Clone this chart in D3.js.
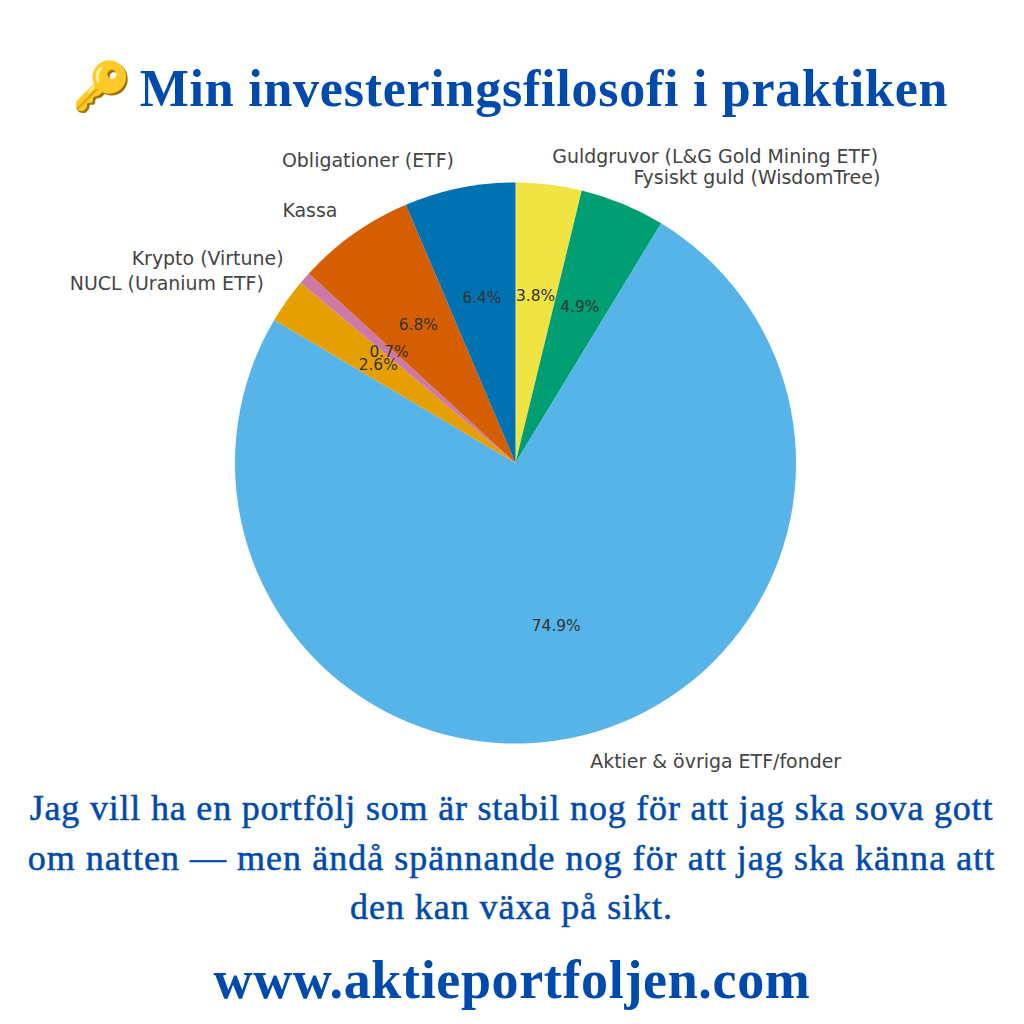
<!DOCTYPE html>
<html><head><meta charset="utf-8">
<style>html,body{margin:0;padding:0;background:#fff}svg{display:block}</style>
<script src="https://cdn.jsdelivr.net/npm/d3@7"></script></head>
<body><svg id="c" width="1024" height="1024"></svg>
<script>
const categories=["Guldgruvor (L&G Gold Mining ETF)","Fysiskt guld (WisdomTree)","Aktier & övriga ETF/fonder","NUCL (Uranium ETF)","Krypto (Virtune)","Kassa","Obligationer (ETF)"];
const values=[3.8,4.9,74.9,2.6,0.7,6.8,6.4];
const pctLabels=["3.8%","4.9%","74.9%","2.6%","0.7%","6.8%","6.4%"];
const colors=["#f0e442","#009e73","#56b4e9","#e69f00","#cc79a7","#d55e00","#0072b2"];
const bodyLines=["Jag vill ha en portfölj som är stabil nog för att jag ska sova gott","om natten — men ändå spännande nog för att jag ska känna att","den kan växa på sikt."];
const bodySpacing=[0.8,1.03,0.95];
const svg=d3.select("#c");
const blue="#004aad",serif="'Liberation Serif','DejaVu Serif',serif",sans="'DejaVu Sans',sans-serif";
const cx=515.5,cy=463,R=280.5;
const pie=d3.pie().sort(null).value(d=>d)(values);
const arc=d3.arc().innerRadius(0).outerRadius(R);
const g=svg.append("g").attr("transform",`translate(${cx},${cy})`);
g.selectAll("path").data(pie).join("path").attr("d",arc).attr("fill",(d,i)=>colors[i]);
const lx=d3.scaleLinear().domain([0,1]).range([0,R*0.6]);
const lo=d3.scaleLinear().domain([0,1]).range([0,R*1.1]);
const mid=d=>(d.startAngle+d.endAngle)/2;
g.selectAll(".p").data(pie).join("text").attr("class","p")
 .attr("x",d=>lx(Math.sin(mid(d)))).attr("y",d=>-lx(Math.cos(mid(d)))).attr("dy","0.3em")
 .attr("text-anchor","middle").attr("font-family",sans).attr("font-size",15.4).attr("fill","#333")
 .text((d,i)=>pctLabels[i]);
g.selectAll(".l").data(pie).join("text").attr("class","l")
 .attr("x",d=>lo(Math.sin(mid(d)))).attr("y",d=>-lo(Math.cos(mid(d)))).attr("dy","0.31em")
 .attr("text-anchor",d=>mid(d)<Math.PI?"start":"end")
 .attr("font-family",sans).attr("font-size",18.95).attr("fill","#444")
 .text((d,i)=>categories[i]);
svg.append("text").attr("x",72).attr("y",103).attr("font-size",48).attr("font-family","'Noto Color Emoji',sans-serif").text("🔑");
svg.append("text").attr("x",544).attr("y",106).attr("text-anchor","middle").attr("font-family",serif).attr("font-weight",700).attr("font-size",52).attr("letter-spacing",0.75).attr("fill",blue).text("Min investeringsfilosofi i praktiken");
svg.selectAll(".b").data(bodyLines).join("text").attr("class","b").attr("x",511.5).attr("y",(d,i)=>820+i*49.5)
 .attr("text-anchor","middle").attr("font-family",serif).attr("font-size",36).attr("letter-spacing",(d,i)=>bodySpacing[i]).attr("stroke",blue).attr("stroke-width",0.5).attr("fill",blue).text(d=>d);
svg.append("text").attr("x",512).attr("y",998).attr("text-anchor","middle").attr("font-family",serif).attr("font-weight",700).attr("font-size",54).attr("letter-spacing",0.65).attr("fill",blue).text("www.aktieportfoljen.com");
</script></body></html>
